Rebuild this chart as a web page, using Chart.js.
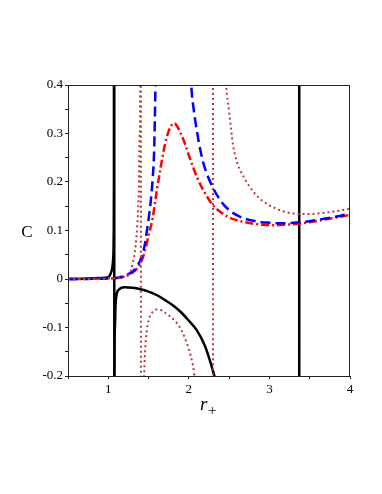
<!DOCTYPE html>
<html>
<head>
<meta charset="utf-8">
<script src="https://cdn.jsdelivr.net/npm/chart.js@4/dist/chart.umd.min.js"></script>
<style>
  body { margin: 0; background: #fff; }
  canvas { display: block; }
</style>
</head>
<body>
<canvas id="chart" width="382" height="494"></canvas>
<script>
// axis range / ticks
const xRange = [0.5, 4];
const yRange = [-0.2, 0.4];
const xStep = 0.5;
const yStep = 0.05;

// black solid curve (vertical jumps at the poles)
const blackX = [0.5, 0.7, 0.9, 1.0, 1.02, 1.04, 1.05, 1.06, 1.065, 1.068, 1.07, 1.073, 1.076, 1.078, 1.082, 1.09, 1.1, 1.13, 1.2, 1.3, 1.4, 1.5, 1.6, 1.7, 1.8, 1.9, 2.0, 2.1, 2.2, 2.25, 2.3, 2.33, 2.4, 3.37, 3.37, 4.0];
const blackY = [0, 0.0005, 0.002, 0.004, 0.008, 0.016, 0.024, 0.04, 0.06, 0.1, 0.2, 5, -5, -0.2, -0.1, -0.055, -0.035, -0.022, -0.017, -0.018, -0.021, -0.026, -0.033, -0.043, -0.054, -0.068, -0.086, -0.106, -0.138, -0.162, -0.19, -0.21, -0.3, -5, 5, 5];

// blue dashed curve
const blueX = [0.5, 0.8, 1.0, 1.1, 1.15, 1.2, 1.25, 1.3, 1.35, 1.4, 1.45, 1.48, 1.52, 1.55, 1.57, 1.585, 1.6, 1.65, 1.95, 2.0, 2.03, 2.06, 2.1, 2.15, 2.2, 2.3, 2.4, 2.5, 2.6, 2.7, 2.8, 2.9, 3.0, 3.1, 3.2, 3.3, 3.4, 3.5, 3.6, 3.7, 3.8, 3.9, 4.0];
const blueY = [0, 0.0003, 0.001, 0.002, 0.004, 0.006, 0.01, 0.015, 0.024, 0.04, 0.068, 0.1, 0.15, 0.205, 0.27, 0.4, 0.6, 3, 3, 0.6, 0.4, 0.35, 0.305, 0.26, 0.228, 0.188, 0.16, 0.142, 0.131, 0.124, 0.12, 0.117, 0.116, 0.115, 0.115, 0.116, 0.117, 0.119, 0.122, 0.125, 0.128, 0.131, 0.135];

// red dash-dot curve
const redX = [0.5, 0.8, 1.0, 1.1, 1.2, 1.3, 1.35, 1.4, 1.45, 1.5, 1.55, 1.6, 1.65, 1.7, 1.75, 1.8, 1.82, 1.85, 1.9, 1.95, 2.0, 2.05, 2.1, 2.2, 2.3, 2.4, 2.5, 2.6, 2.7, 2.8, 2.9, 3.0, 3.1, 3.2, 3.3, 3.4, 3.5, 3.6, 3.7, 3.8, 3.9, 4.0];
const redY = [0, 0.0003, 0.001, 0.002, 0.005, 0.013, 0.02, 0.032, 0.055, 0.09, 0.125, 0.18, 0.23, 0.275, 0.305, 0.32, 0.321, 0.316, 0.3, 0.28, 0.255, 0.232, 0.21, 0.177, 0.152, 0.137, 0.127, 0.121, 0.117, 0.114, 0.112, 0.111, 0.111, 0.112, 0.113, 0.115, 0.117, 0.12, 0.123, 0.126, 0.129, 0.132];

// brown dotted curve
const dotX = [0.5, 0.8, 1.0, 1.1, 1.2, 1.25, 1.28, 1.3, 1.32, 1.34, 1.36, 1.37, 1.38, 1.39, 1.397, 1.403, 1.407, 1.43, 1.445, 1.46, 1.48, 1.5, 1.55, 1.6, 1.65, 1.7, 1.8, 1.9, 2.0, 2.05, 2.08, 2.15, 2.298, 2.302, 2.32, 2.4, 2.44, 2.46, 2.5, 2.55, 2.6, 2.7, 2.8, 2.9, 3.0, 3.1, 3.2, 3.3, 3.4, 3.5, 3.6, 3.7, 3.8, 3.9, 4.0];
const dotY = [0, 0.0003, 0.001, 0.002, 0.005, 0.008, 0.018, 0.03, 0.046, 0.07, 0.11, 0.14, 0.19, 0.3, 0.42, 5, -5, -0.5, -0.2, -0.14, -0.105, -0.085, -0.068, -0.063, -0.064, -0.069, -0.082, -0.103, -0.145, -0.178, -0.21, -0.4, -5, 5, 3, 0.8, 0.5, 0.41, 0.345, 0.275, 0.24, 0.205, 0.18, 0.163, 0.152, 0.144, 0.138, 0.135, 0.134, 0.134, 0.135, 0.137, 0.139, 0.142, 0.145];

function pts(xs, ys) {
    return xs.map((x, i) => ({ x: x, y: ys[i] }));
}

const SERIF = '"Liberation Serif", "DejaVu Serif", serif';

// frame + axis titles
const framePlugin = {
    id: 'frame',
    afterDraw(chart) {
        const ctx = chart.ctx;
        const a = chart.chartArea;
        ctx.save();
        ctx.strokeStyle = '#222';
        ctx.lineWidth = 1;
        ctx.strokeRect(a.left + 0.5, a.top + 0.5, a.right - a.left - 1, a.bottom - a.top);
        ctx.fillStyle = '#000';
        ctx.textBaseline = 'alphabetic';
        ctx.font = '17px ' + SERIF;
        ctx.textAlign = 'center';
        ctx.fillText('C', 27, 237);
        ctx.textAlign = 'left';
        ctx.font = 'italic 19px ' + SERIF;
        ctx.fillText('r', 200, 410);
        ctx.font = '15px ' + SERIF;
        ctx.fillText('+', 208, 415);
        ctx.restore();
    }
};

const common = { showLine: true, pointRadius: 0, cubicInterpolationMode: 'monotone', fill: false, clip: 0 };

new Chart(document.getElementById('chart'), {
    type: 'scatter',
    data: {
        datasets: [
            Object.assign({ data: pts(dotX, dotY), borderColor: 'rgb(185,60,60)', borderWidth: 2, borderDash: [2, 3] }, common),
            Object.assign({ data: pts(blueX, blueY), borderColor: '#0000ff', borderWidth: 2.5, borderDash: [10, 5] }, common),
            Object.assign({ data: pts(redX, redY), borderColor: '#ff0000', borderWidth: 2.5, borderDash: [8, 3, 2, 3] }, common),
            Object.assign({ data: pts(blackX, blackY), borderColor: '#000', borderWidth: 2.5 }, common)
        ]
    },
    options: {
        responsive: false,
        animation: false,
        layout: { padding: { left: 0, right: 32, top: 85, bottom: 0 } },
        plugins: { legend: { display: false }, tooltip: { enabled: false } },
        scales: {
            x: {
                type: 'linear',
                min: xRange[0], max: xRange[1],
                afterFit(scale) { scale.height = 118; },
                border: { display: false },
                grid: { drawOnChartArea: false, drawTicks: true, tickLength: 3, color: '#222' },
                ticks: {
                    stepSize: xStep, autoSkip: false, padding: 3, color: '#000',
                    font: { family: SERIF, size: 13 },
                    callback: v => Number.isInteger(v) ? String(v) : ''
                }
            },
            y: {
                type: 'linear',
                min: yRange[0], max: yRange[1],
                afterFit(scale) { scale.width = 68; },
                border: { display: false },
                grid: { drawOnChartArea: false, drawTicks: true, tickLength: 3, color: '#222' },
                ticks: {
                    stepSize: yStep, autoSkip: false, padding: 2, color: '#000',
                    font: { family: SERIF, size: 13 },
                    callback: v => {
                        const t = Math.round(v * 10);
                        return Math.abs(v * 10 - t) < 1e-6 ? String(t / 10) : '';
                    }
                }
            }
        }
    },
    plugins: [framePlugin]
});
</script>
</body>
</html>
